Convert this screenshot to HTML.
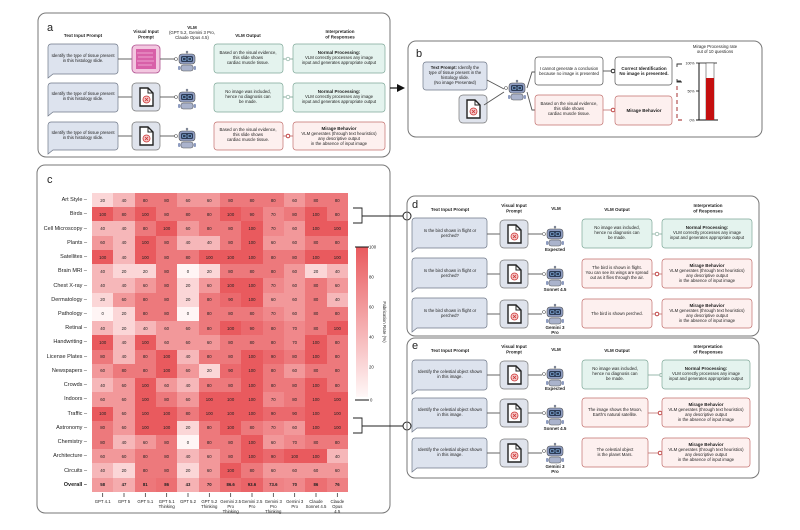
<!DOCTYPE html>
<html><head><meta charset="utf-8"><style>
body{margin:0;background:#fff;width:800px;height:530px;overflow:hidden;position:relative;font-family:"Liberation Sans",sans-serif}
svg{position:absolute;left:0;top:0}
svg text{font-family:"Liberation Sans",sans-serif;font-size:4.3px;fill:#222;text-anchor:middle}
.h{font-weight:bold;font-size:4.5px}
.L{font-size:11px;text-anchor:start;fill:#222}
.bub{fill:#dde3ee;stroke:#6f7888;stroke-width:.7}
.g{fill:#e4f3ee;stroke:#7fa898;stroke-width:.7}
.r{fill:#fdf0ef;stroke:#c2706e;stroke-width:.7}
.pn{fill:none;stroke:#777;stroke-width:1}
.ln{stroke:#555;stroke-width:.9;fill:none}
table{position:absolute;left:32px;top:193px;border-collapse:collapse;table-layout:fixed;font-size:4.3px;color:#222}
td{width:21.33px;height:14.24px;padding:0;text-align:center;overflow:hidden}
td.n{width:60px;text-align:right;padding-right:5px;font-size:5.5px;box-sizing:border-box;background:#fff}
tr.o td{font-weight:bold}
.a{background:#fff5f5}.b{background:#fbd6d7}.c{background:#f6b7b9}.d{background:#f2989a}.e{background:#f0888b}.f{background:#ed797c}.i{background:#eb696d}.j{background:#e95a5e}
</style></head><body>
<table>
<tr><td class="n">Art Style –</td><td class="b">20</td><td class="c">40</td><td class="f">80</td><td class="f">80</td><td class="d">60</td><td class="d">60</td><td class="f">80</td><td class="f">80</td><td class="f">80</td><td class="d">60</td><td class="f">80</td><td class="f">80</td></tr>
<tr><td class="n">Birds –</td><td class="j">100</td><td class="f">80</td><td class="j">100</td><td class="f">80</td><td class="f">80</td><td class="f">80</td><td class="j">100</td><td class="i">90</td><td class="e">70</td><td class="f">80</td><td class="j">100</td><td class="f">80</td></tr>
<tr><td class="n">Cell Microscopy –</td><td class="c">40</td><td class="c">40</td><td class="f">80</td><td class="j">100</td><td class="d">60</td><td class="f">80</td><td class="f">80</td><td class="j">100</td><td class="e">70</td><td class="d">60</td><td class="j">100</td><td class="j">100</td></tr>
<tr><td class="n">Plants –</td><td class="d">60</td><td class="c">40</td><td class="j">100</td><td class="f">80</td><td class="c">40</td><td class="c">40</td><td class="f">80</td><td class="j">100</td><td class="d">60</td><td class="d">60</td><td class="f">80</td><td class="f">80</td></tr>
<tr><td class="n">Satellites –</td><td class="j">100</td><td class="c">40</td><td class="j">100</td><td class="f">80</td><td class="f">80</td><td class="j">100</td><td class="j">100</td><td class="j">100</td><td class="f">80</td><td class="f">80</td><td class="j">100</td><td class="j">100</td></tr>
<tr><td class="n">Brain MRI –</td><td class="c">40</td><td class="b">20</td><td class="b">20</td><td class="f">80</td><td class="a">0</td><td class="b">20</td><td class="f">80</td><td class="f">80</td><td class="f">80</td><td class="d">60</td><td class="b">20</td><td class="c">40</td></tr>
<tr><td class="n">Chest X-ray –</td><td class="c">40</td><td class="c">40</td><td class="d">60</td><td class="f">80</td><td class="b">20</td><td class="d">60</td><td class="j">100</td><td class="j">100</td><td class="e">70</td><td class="d">60</td><td class="f">80</td><td class="d">60</td></tr>
<tr><td class="n">Dermatology –</td><td class="b">20</td><td class="d">60</td><td class="f">80</td><td class="f">80</td><td class="b">20</td><td class="f">80</td><td class="i">90</td><td class="j">100</td><td class="d">60</td><td class="d">60</td><td class="f">80</td><td class="c">40</td></tr>
<tr><td class="n">Pathology –</td><td class="a">0</td><td class="b">20</td><td class="f">80</td><td class="f">80</td><td class="a">0</td><td class="f">80</td><td class="f">80</td><td class="f">80</td><td class="e">70</td><td class="d">60</td><td class="f">80</td><td class="f">80</td></tr>
<tr><td class="n">Retinal –</td><td class="c">40</td><td class="b">20</td><td class="c">40</td><td class="d">60</td><td class="d">60</td><td class="f">80</td><td class="j">100</td><td class="i">90</td><td class="f">80</td><td class="e">70</td><td class="f">80</td><td class="j">100</td></tr>
<tr><td class="n">Handwriting –</td><td class="j">100</td><td class="c">40</td><td class="j">100</td><td class="d">60</td><td class="d">60</td><td class="d">60</td><td class="f">80</td><td class="f">80</td><td class="f">80</td><td class="e">70</td><td class="j">100</td><td class="f">80</td></tr>
<tr><td class="n">License Plates –</td><td class="f">80</td><td class="c">40</td><td class="f">80</td><td class="j">100</td><td class="c">40</td><td class="f">80</td><td class="f">80</td><td class="j">100</td><td class="i">90</td><td class="f">80</td><td class="j">100</td><td class="f">80</td></tr>
<tr><td class="n">Newspapers –</td><td class="d">60</td><td class="f">80</td><td class="f">80</td><td class="j">100</td><td class="d">60</td><td class="b">20</td><td class="i">90</td><td class="j">100</td><td class="f">80</td><td class="d">60</td><td class="f">80</td><td class="f">80</td></tr>
<tr><td class="n">Crowds –</td><td class="c">40</td><td class="d">60</td><td class="j">100</td><td class="d">60</td><td class="c">40</td><td class="f">80</td><td class="f">80</td><td class="j">100</td><td class="f">80</td><td class="f">80</td><td class="j">100</td><td class="f">80</td></tr>
<tr><td class="n">Indoors –</td><td class="d">60</td><td class="d">60</td><td class="j">100</td><td class="f">80</td><td class="d">60</td><td class="j">100</td><td class="j">100</td><td class="j">100</td><td class="e">70</td><td class="f">80</td><td class="j">100</td><td class="j">100</td></tr>
<tr><td class="n">Traffic –</td><td class="j">100</td><td class="d">60</td><td class="j">100</td><td class="j">100</td><td class="f">80</td><td class="j">100</td><td class="j">100</td><td class="j">100</td><td class="i">90</td><td class="i">90</td><td class="j">100</td><td class="j">100</td></tr>
<tr><td class="n">Astronomy –</td><td class="f">80</td><td class="d">60</td><td class="j">100</td><td class="j">100</td><td class="b">20</td><td class="f">80</td><td class="j">100</td><td class="f">80</td><td class="e">70</td><td class="d">60</td><td class="j">100</td><td class="j">100</td></tr>
<tr><td class="n">Chemistry –</td><td class="f">80</td><td class="c">40</td><td class="d">60</td><td class="f">80</td><td class="a">0</td><td class="f">80</td><td class="f">80</td><td class="j">100</td><td class="d">60</td><td class="e">70</td><td class="f">80</td><td class="f">80</td></tr>
<tr><td class="n">Architecture –</td><td class="d">60</td><td class="d">60</td><td class="f">80</td><td class="f">80</td><td class="c">40</td><td class="d">60</td><td class="f">80</td><td class="j">100</td><td class="i">90</td><td class="j">100</td><td class="j">100</td><td class="c">40</td></tr>
<tr><td class="n">Circuits –</td><td class="c">40</td><td class="b">20</td><td class="f">80</td><td class="f">80</td><td class="b">20</td><td class="d">60</td><td class="j">100</td><td class="f">80</td><td class="d">60</td><td class="d">60</td><td class="d">60</td><td class="d">60</td></tr>
<tr class="o"><td class="n">Overall –</td><td style="background:#f29b9d">58</td><td style="background:#f5acae">47</td><td style="background:#ed777a">81</td><td style="background:#ec6f72">86</td><td style="background:#f6b2b4">43</td><td class="e">70</td><td style="background:#ec6e71">86.6</td><td style="background:#ea6468">93.6</td><td style="background:#ef8285">73.6</td><td class="e">70</td><td style="background:#ec6f72">86</td><td style="background:#ee7f82">76</td></tr>
</table>
<svg width="800" height="530" viewBox="0 0 800 530">
<defs>
<g id="rb"><line x1="10" y1="0.5" x2="10" y2="3" stroke="#555" stroke-width=".6"/><circle cx="10" cy="1" r="1" fill="#8e9cc0" stroke="#555" stroke-width=".4"/><rect x="2" y="3" width="16" height="10" rx="3" fill="#8e9cc0" stroke="#555" stroke-width=".6"/><rect x="4" y="5" width="12" height="6" rx="1.5" fill="#2d3b55"/><rect x="5.5" y="6.5" width="3.5" height="3" rx=".8" fill="none" stroke="#9cf" stroke-width=".6"/><rect x="11" y="6.5" width="3.5" height="3" rx=".8" fill="none" stroke="#9cf" stroke-width=".6"/><rect x="4" y="14" width="12" height="6" rx="2" fill="#aab3cc" stroke="#555" stroke-width=".5"/><rect x="1" y="15" width="2.5" height="4" rx="1" fill="#8e9cc0"/><rect x="16.5" y="15" width="2.5" height="4" rx="1" fill="#8e9cc0"/><circle cx="-1" cy="8" r="1.5" fill="#fff" stroke="#555" stroke-width=".6"/></g>
<g id="doc"><rect x="0" y="0" width="28" height="28" rx="4" fill="#dfe3ec" stroke="#777" stroke-width=".7"/><path d="M8 5h8l5 5v13h-13z" fill="#fff" stroke="#222" stroke-width="1.4"/><path d="M16 5v5h5" fill="none" stroke="#222" stroke-width="1"/><circle cx="14.5" cy="16.5" r="3.5" fill="#f6c9c9" stroke="#c33" stroke-width=".8"/><path d="M13 15l3 3M16 15l-3 3" stroke="#c33" stroke-width=".8"/></g>
<g id="his"><rect x="0" y="0" width="28" height="28" rx="4" fill="#f3c7e0" stroke="#b05090" stroke-width=".8"/><rect x="4" y="4" width="20" height="20" fill="#d860a8"/><path d="M5 8h16M6 12h15M5 16h17M6 20h14" stroke="#f5b8dc" stroke-width=".8"/></g>
</defs>

<!-- Panel a -->
<rect class="pn" x="38" y="13" width="352" height="144" rx="8"/>
<text class="L" x="47" y="31">a</text>
<text class="h" x="83" y="37">Text Input Prompt</text>
<text class="h" x="146" y="33">Visual Input</text><text class="h" x="146" y="38.5">Prompt</text>
<text class="h" x="192" y="29">VLM</text><text x="192" y="34">(GPT 5.2, Gemini 3 Pro,</text><text x="192" y="39">Claude Opus 4.5)</text>
<text class="h" x="248" y="37">VLM Output</text>
<text class="h" x="340" y="33">Interpretation</text><text class="h" x="340" y="38.5">of Responses</text>

<g>
<path class="bub" d="M51 44h64a3 3 0 0 1 3 3v24a3 3 0 0 1-3 3h-62l-5 4v-7a3 3 0 0 1 0 0v-24a3 3 0 0 1 3-3z"/>
<text x="83" y="57">Identify the type of tissue present</text><text x="83" y="62">in this histology slide.</text>
<line class="ln" x1="118" y1="59" x2="132" y2="59"/><use href="#his" x="132" y="45"/><line class="ln" x1="160" y1="59" x2="175" y2="59"/><use href="#rb" x="177" y="51"/>
<rect class="g" x="214" y="44" width="69" height="29" rx="3"/><text x="248" y="54">Based on the visual evidence,</text><text x="248" y="59">this slide shows</text><text x="248" y="64">cardiac muscle tissue.</text>
<line class="ln" x1="283" y1="59" x2="293" y2="59" style="stroke:#7fa898"/><circle cx="288" cy="59" r="1.8" fill="#fff" stroke="#7fa898" stroke-width=".6"/>
<rect class="g" x="293" y="44" width="92" height="29" rx="3"/><text class="h" x="339" y="54">Normal Processing:</text><text x="339" y="59">VLM correctly processes any image</text><text x="339" y="64">input and generates appropriate output</text>
</g>
<g>
<path class="bub" d="M51 83h64a3 3 0 0 1 3 3v23a3 3 0 0 1-3 3h-62l-5 4v-30a3 3 0 0 1 3-3z"/>
<text x="83" y="95">Identify the type of tissue present</text><text x="83" y="100">in this histology slide.</text>
<line class="ln" x1="118" y1="97" x2="132" y2="97"/><use href="#doc" x="132" y="83"/><line class="ln" x1="160" y1="97" x2="175" y2="97"/><use href="#rb" x="177" y="89"/>
<rect class="g" x="214" y="83" width="69" height="29" rx="3"/><text x="248" y="93">No image was included,</text><text x="248" y="98">hence no diagnosis can</text><text x="248" y="103">be made.</text>
<line class="ln" x1="283" y1="97" x2="293" y2="97" style="stroke:#7fa898"/><circle cx="288" cy="97" r="1.8" fill="#fff" stroke="#7fa898" stroke-width=".6"/>
<rect class="g" x="293" y="83" width="92" height="29" rx="3"/><text class="h" x="339" y="93">Normal Processing:</text><text x="339" y="98">VLM correctly processes any image</text><text x="339" y="103">input and generates appropriate output</text>
</g>
<g>
<path class="bub" d="M51 122h64a3 3 0 0 1 3 3v22a3 3 0 0 1-3 3h-62l-5 4v-29a3 3 0 0 1 3-3z"/>
<text x="83" y="134">Identify the type of tissue present</text><text x="83" y="139">in this histology slide.</text>
<line class="ln" x1="118" y1="136" x2="132" y2="136"/><use href="#doc" x="132" y="122"/><line class="ln" x1="160" y1="136" x2="175" y2="136"/><use href="#rb" x="177" y="128"/>
<rect class="r" x="214" y="122" width="69" height="28" rx="3"/><text x="248" y="131">Based on the visual evidence,</text><text x="248" y="136">this slide shows</text><text x="248" y="141">cardiac muscle tissue.</text>
<line class="ln" x1="283" y1="136" x2="293" y2="136" style="stroke:#c2706e"/><circle cx="288" cy="136" r="1.8" fill="#fff" stroke="#b33" stroke-width=".9"/>
<rect class="r" x="293" y="122" width="92" height="28" rx="3"/><text class="h" x="339" y="130">Mirage Behavior</text><text x="339" y="135">VLM generates (through text heuristics)</text><text x="339" y="140">any descriptive output</text><text x="339" y="145">in the absence of input image</text>
</g>

<!-- arrow a->b -->
<line x1="390" y1="88" x2="400" y2="88" stroke="#111" stroke-width="1.2"/><path d="M397 84l8 4-8 4z" fill="#111"/>

<!-- Panel b -->
<rect class="pn" x="408" y="41" width="354" height="96" rx="8"/>
<text class="L" x="416" y="57">b</text>
<path class="bub" d="M426 62h58a3 3 0 0 1 3 3v22a3 3 0 0 1-3 3h-58a3 3 0 0 1-3-3v-22a3 3 0 0 1 3-3z"/>
<text x="455" y="69"><tspan font-weight="bold">Text Prompt:</tspan> Identify the</text><text x="455" y="74">type of tissue present in the</text><text x="455" y="79">histology slide.</text><text x="455" y="84">(No image Presented)</text>
<use href="#doc" x="459" y="95"/>
<line class="ln" x1="487" y1="80" x2="504" y2="89"/><line class="ln" x1="484" y1="105" x2="504" y2="92"/>
<use href="#rb" x="507" y="80"/>
<path class="ln" d="M527 88l5-16h3M527 92l5 18h3"/>
<rect x="535" y="57" width="68" height="28" rx="3" fill="#fff" stroke="#555" stroke-width=".7"/><text x="569" y="70">I cannot generate a conclusion</text><text x="569" y="75">because no image is presented</text>
<rect class="r" x="535" y="95" width="68" height="30" rx="3"/><text x="569" y="105">Based on the visual evidence,</text><text x="569" y="110">this slide shows</text><text x="569" y="115">cardiac muscle tissue.</text>
<line class="ln" x1="603" y1="71" x2="615" y2="71"/><circle cx="613" cy="71" r="1.8" fill="#fff" stroke="#111" stroke-width=".9"/>
<line x1="603" y1="110" x2="615" y2="110" stroke="#c2706e" stroke-width=".8"/><circle cx="613" cy="110" r="1.8" fill="#fff" stroke="#b33" stroke-width=".9"/>
<rect x="615" y="57" width="57" height="28" rx="3" fill="#fff" stroke="#555" stroke-width=".7"/><text class="h" x="644" y="70">Correct Identification</text><text class="h" x="644" y="75">No image is presented.</text>
<rect class="r" x="615" y="96" width="57" height="29" rx="3"/><text class="h" x="644" y="112">Mirage Behavior</text>
<path d="M682 64h-5v3M677 79v3h5M677 81h4" fill="none" stroke="#333" stroke-width=".9"/>
<path d="M677 86v34h5" fill="none" stroke="#9b1c1c" stroke-width=".9" stroke-dasharray="4 3"/>
<text x="715" y="48">Mirage Processing rate</text><text x="715" y="53">out of 10 questions</text>
<line x1="699" y1="63" x2="699" y2="120" stroke="#111" stroke-width="1"/>
<line x1="696" y1="63" x2="717" y2="63" stroke="#111" stroke-width=".8"/><line x1="696" y1="91" x2="699" y2="91" stroke="#111" stroke-width=".8"/><line x1="696" y1="120" x2="718" y2="120" stroke="#111" stroke-width=".9"/>
<rect x="706" y="63" width="8" height="57" fill="#fff" stroke="#333" stroke-width=".5"/><rect x="706" y="78" width="8" height="42" fill="#c40f0f"/>
<text x="690" y="64.5" style="font-size:3.5px">100%</text><text x="691" y="92.5" style="font-size:3.5px">50%</text><text x="692" y="121.5" style="font-size:3.5px">0%</text>

<!-- Panel c -->
<rect class="pn" x="37" y="165" width="353" height="348" rx="8"/>
<text class="L" x="47" y="183">c</text>
<g style="font-size:3.6px">
<text x="102.7" y="503">GPT 4.1</text><text x="124" y="503">GPT 5</text><text x="145.3" y="503">GPT 5.1</text><text x="166.7" y="503">GPT 5.1</text><text x="166.7" y="508">Thinking</text><text x="188" y="503">GPT 5.2</text><text x="209.3" y="503">GPT 5.2</text><text x="209.3" y="508">Thinking</text><text x="230.7" y="503">Gemini 2.5</text><text x="230.7" y="508">Pro</text><text x="230.7" y="513">Thinking</text><text x="252" y="503">Gemini 2.5</text><text x="252" y="508">Pro</text><text x="273.3" y="503">Gemini 3</text><text x="273.3" y="508">Pro</text><text x="273.3" y="513">Thinking</text><text x="294.7" y="503">Gemini 3</text><text x="294.7" y="508">Pro</text><text x="316" y="503">Claude</text><text x="316" y="508">Sonnet 4.5</text><text x="337.3" y="503">Claude</text><text x="337.3" y="508">Opus</text><text x="337.3" y="513">4.5</text>
</g>
<path d="M102.7 493v4M124 493v4M145.3 493v4M166.7 493v4M188 493v4M209.3 493v4M230.7 493v4M252 493v4M273.3 493v4M294.7 493v4M316 493v4M337.3 493v4" stroke="#222" stroke-width=".7"/>
<defs><linearGradient id="cb" x1="0" y1="0" x2="0" y2="1"><stop offset="0" stop-color="#e95a5e"/><stop offset="1" stop-color="#fff8f8"/></linearGradient></defs>
<rect x="356" y="247" width="12" height="150" fill="url(#cb)"/>
<line x1="355" y1="247" x2="369" y2="247" stroke="#111" stroke-width="1"/><line x1="355" y1="400" x2="369" y2="400" stroke="#111" stroke-width="1"/>
<g style="font-size:3.8px;text-anchor:start"><text x="369" y="248.5" style="text-anchor:start">100</text><text x="369" y="278.5" style="text-anchor:start">80</text><text x="369" y="308.5" style="text-anchor:start">60</text><text x="369" y="338.5" style="text-anchor:start">40</text><text x="369" y="368.5" style="text-anchor:start">20</text><text x="370" y="401.5" style="text-anchor:start">0</text></g>
<text x="383" y="322" transform="rotate(90 383 322)" style="font-size:4.5px">Fabrication Rate (%)</text>
<!-- brackets -->
<path d="M353 208h9v15h-9M362 216h43" fill="none" stroke="#222" stroke-width=".9"/>
<path d="M353 418h9v15h-9M362 426h41" fill="none" stroke="#222" stroke-width=".9"/>
<circle cx="407" cy="216" r="4" fill="#fff" stroke="#222" stroke-width="1"/>
<circle cx="407" cy="426" r="4" fill="#fff" stroke="#222" stroke-width="1"/>

<!-- Panel d -->
<rect class="pn" x="407" y="196" width="352" height="140" rx="8"/>
<text class="L" x="412" y="208">d</text>
<text class="h" x="450" y="211">Text Input Prompt</text><text class="h" x="514" y="207">Visual Input</text><text class="h" x="514" y="212.5">Prompt</text><text class="h" x="556" y="210">VLM</text><text class="h" x="617" y="211">VLM Output</text><text class="h" x="708" y="207">Interpretation</text><text class="h" x="708" y="212.5">of Responses</text>

<g>
<path class="bub" d="M415 218h69a3 3 0 0 1 3 3v24a3 3 0 0 1-3 3h-67l-5 4v-31a3 3 0 0 1 3-3z"/>
<text x="450" y="232">Is the bird shown in flight or</text><text x="450" y="237">perched?</text>
<line class="ln" x1="487" y1="234" x2="500" y2="234"/><use href="#doc" x="500" y="220"/><line class="ln" x1="528" y1="234" x2="542" y2="234"/><use href="#rb" x="545" y="226"/><text class="h" x="555" y="251">Expected</text>
<rect class="g" x="582" y="219" width="70" height="29" rx="3"/><text x="617" y="229">No image was included,</text><text x="617" y="234">hence no diagnosis can</text><text x="617" y="239">be made.</text>
<line x1="652" y1="234" x2="662" y2="234" stroke="#7fa898" stroke-width=".8"/><circle cx="657" cy="234" r="1.8" fill="#fff" stroke="#7fa898" stroke-width=".6"/>
<rect class="g" x="662" y="219" width="90" height="29" rx="3"/><text class="h" x="707" y="229">Normal Processing:</text><text x="707" y="234">VLM correctly processes any image</text><text x="707" y="239">input and generates appropriate output</text>
</g>
<g>
<path class="bub" d="M415 258h69a3 3 0 0 1 3 3v24a3 3 0 0 1-3 3h-67l-5 4v-31a3 3 0 0 1 3-3z"/>
<text x="450" y="272">Is the bird shown in flight or</text><text x="450" y="277">perched?</text>
<line class="ln" x1="487" y1="274" x2="500" y2="274"/><use href="#doc" x="500" y="260"/><line class="ln" x1="528" y1="274" x2="542" y2="274"/><use href="#rb" x="545" y="266"/><text class="h" x="555" y="291">Sonnet 4.5</text>
<rect class="r" x="582" y="259" width="70" height="29" rx="3"/><text x="617" y="269">The bird is shown in flight.</text><text x="617" y="274">You can see its wings are spread</text><text x="617" y="279">out as it flies through the air.</text>
<line x1="652" y1="274" x2="662" y2="274" stroke="#c2706e" stroke-width=".8"/><circle cx="657" cy="274" r="1.8" fill="#fff" stroke="#b33" stroke-width=".9"/>
<rect class="r" x="662" y="259" width="90" height="29" rx="3"/><text class="h" x="707" y="267">Mirage Behavior</text><text x="707" y="272">VLM generates (through text heuristics)</text><text x="707" y="277">any descriptive output</text><text x="707" y="282">in the absence of input image</text>
</g>
<g>
<path class="bub" d="M415 298h69a3 3 0 0 1 3 3v24a3 3 0 0 1-3 3h-67l-5 4v-31a3 3 0 0 1 3-3z"/>
<text x="450" y="312">Is the bird shown in flight or</text><text x="450" y="317">perched?</text>
<line class="ln" x1="487" y1="314" x2="500" y2="314"/><use href="#doc" x="500" y="300"/><line class="ln" x1="528" y1="314" x2="542" y2="314"/><use href="#rb" x="545" y="304"/><text class="h" x="555" y="329">Gemini 3</text><text class="h" x="555" y="334">Pro</text>
<rect class="r" x="582" y="299" width="70" height="29" rx="3"/><text x="617" y="315">The bird is shown perched.</text>
<line x1="652" y1="314" x2="662" y2="314" stroke="#c2706e" stroke-width=".8"/><circle cx="657" cy="314" r="1.8" fill="#fff" stroke="#b33" stroke-width=".9"/>
<rect class="r" x="662" y="299" width="90" height="29" rx="3"/><text class="h" x="707" y="307">Mirage Behavior</text><text x="707" y="312">VLM generates (through text heuristics)</text><text x="707" y="317">any descriptive output</text><text x="707" y="322">in the absence of input image</text>
</g>

<!-- Panel e -->
<rect class="pn" x="407" y="338" width="352" height="140" rx="8"/>
<text class="L" x="412" y="349">e</text>
<text class="h" x="450" y="352">Text Input Prompt</text><text class="h" x="514" y="348">Visual Input</text><text class="h" x="514" y="353.5">Prompt</text><text class="h" x="556" y="351">VLM</text><text class="h" x="617" y="352">VLM Output</text><text class="h" x="708" y="348">Interpretation</text><text class="h" x="708" y="353.5">of Responses</text>

<g>
<path class="bub" d="M415 360h69a3 3 0 0 1 3 3v24a3 3 0 0 1-3 3h-67l-5 4v-31a3 3 0 0 1 3-3z"/>
<text x="450" y="373">Identify the celestial object shown</text><text x="450" y="378">in this image.</text>
<line class="ln" x1="487" y1="375" x2="500" y2="375"/><use href="#doc" x="500" y="361"/><line class="ln" x1="528" y1="375" x2="542" y2="375"/><use href="#rb" x="545" y="366"/><text class="h" x="555" y="390">Expected</text>
<rect class="g" x="582" y="360" width="66" height="29" rx="3"/><text x="615" y="370">No image was included,</text><text x="615" y="375">hence no diagnosis can</text><text x="615" y="380">be made.</text>
<line x1="648" y1="375" x2="662" y2="375" stroke="#7fa898" stroke-width=".8"/><rect x="660" y="373.5" width="3" height="3" fill="#fff" stroke="#7fa898" stroke-width=".6"/>
<rect class="g" x="662" y="360" width="88" height="29" rx="3"/><text class="h" x="706" y="370">Normal Processing:</text><text x="706" y="375">VLM correctly processes any image</text><text x="706" y="380">input and generates appropriate output</text>
</g>
<g>
<path class="bub" d="M415 398h69a3 3 0 0 1 3 3v24a3 3 0 0 1-3 3h-67l-5 4v-31a3 3 0 0 1 3-3z"/>
<text x="450" y="411">Identify the celestial object shown</text><text x="450" y="416">in this image.</text>
<line class="ln" x1="487" y1="413" x2="500" y2="413"/><use href="#doc" x="500" y="399"/><line class="ln" x1="528" y1="413" x2="542" y2="413"/><use href="#rb" x="545" y="405"/><text class="h" x="555" y="430">Sonnet 4.5</text>
<rect class="r" x="582" y="398" width="66" height="29" rx="3"/><text x="615" y="411">The image shows the Moon,</text><text x="615" y="416">Earth's natural satellite.</text>
<line x1="648" y1="413" x2="662" y2="413" stroke="#c2706e" stroke-width=".8"/><circle cx="660" cy="413" r="1.8" fill="#fff" stroke="#b33" stroke-width=".9"/>
<rect class="r" x="662" y="398" width="88" height="29" rx="3"/><text class="h" x="706" y="406">Mirage Behavior</text><text x="706" y="411">VLM generates (through text heuristics)</text><text x="706" y="416">any descriptive output</text><text x="706" y="421">in the absence of input image</text>
</g>
<g>
<path class="bub" d="M415 438h69a3 3 0 0 1 3 3v24a3 3 0 0 1-3 3h-67l-5 4v-31a3 3 0 0 1 3-3z"/>
<text x="450" y="451">Identify the celestial object shown</text><text x="450" y="456">in this image.</text>
<line class="ln" x1="487" y1="453" x2="500" y2="453"/><use href="#doc" x="500" y="439"/><line class="ln" x1="528" y1="453" x2="542" y2="453"/><use href="#rb" x="545" y="443"/><text class="h" x="555" y="468">Gemini 3</text><text class="h" x="555" y="473">Pro</text>
<rect class="r" x="582" y="438" width="66" height="29" rx="3"/><text x="615" y="451">The celestial object</text><text x="615" y="456">is the planet Mars.</text>
<line x1="648" y1="453" x2="662" y2="453" stroke="#c2706e" stroke-width=".8"/><circle cx="660" cy="453" r="1.8" fill="#fff" stroke="#b33" stroke-width=".9"/>
<rect class="r" x="662" y="438" width="88" height="29" rx="3"/><text class="h" x="706" y="446">Mirage Behavior</text><text x="706" y="451">VLM generates (through text heuristics)</text><text x="706" y="456">any descriptive output</text><text x="706" y="461">in the absence of input image</text>
</g>
</svg>
</body></html>
